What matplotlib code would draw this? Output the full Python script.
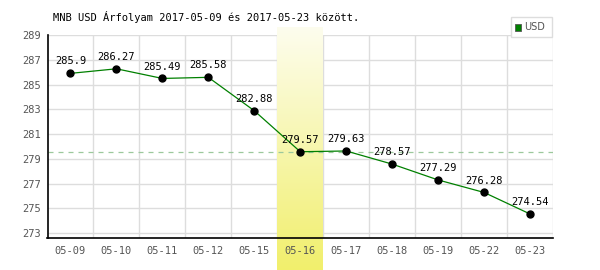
import matplotlib
matplotlib.use("Agg")
import matplotlib.pyplot as plt
import numpy as np
from matplotlib.patches import Rectangle

dates = ["05-09", "05-10", "05-11", "05-12", "05-15", "05-16", "05-17", "05-18", "05-19", "05-22", "05-23"]
values = [285.9, 286.27, 285.49, 285.58, 282.88, 279.57, 279.63, 278.57, 277.29, 276.28, 274.54]
yticks = [273, 275, 277, 279, 281, 283, 285, 287, 289]
highlight_idx = 5
title = "MNB USD Árfolyam 2017-05-09 és 2017-05-23 között."
series_name = "USD"

plt.rcParams['font.family'] = ['DejaVu Sans Mono']
fig = plt.figure(figsize=(6, 2.7), dpi=100)
ax = fig.add_axes([47.5/600, 1-238/270, (553-47.5)/600, (238-35)/270])

ymin, ymax = 272.6, 289.0
x = np.arange(len(dates))
ax.set_xlim(-0.5, len(dates) - 0.5)
ax.set_ylim(ymin, ymax)

# gradient highlight band
grad = np.linspace(0, 1, 256).reshape(-1, 1)
top_c = np.array([0xfd, 0xfd, 0xee]) / 255
bot_c = np.array([0xf1, 0xef, 0x6c]) / 255
img = top_c[None, None, :] * (1 - grad[:, :, None]) + bot_c[None, None, :] * grad[:, :, None]
ppu = 203 / (ymax - ymin)
band_top = ymax + 7 / ppu
band_bot = ymin - 32 / ppu
ax.imshow(img, extent=(highlight_idx - 0.5, highlight_idx + 0.5, band_bot, band_top),
          aspect='auto', zorder=1, clip_on=False, interpolation='bilinear')
ax.set_xlim(-0.5, len(dates) - 0.5)
ax.set_ylim(ymin, ymax)

ax.set_yticks(yticks)
ax.set_xticks(x)
ax.set_xticklabels(dates)
ax.grid(False)
for xv in np.arange(len(dates) + 1)[1:] - 0.5:
    ax.axvline(xv, color='#dddddd', lw=1, zorder=0)
for yv in yticks:
    ax.axhline(yv, color='#dddddd', lw=1, zorder=0)

ax.axhline(values[highlight_idx], color='#9cc89c', lw=0.9, ls=(0, (4, 4)), zorder=2)

ax.plot(x, values, color='#008000', lw=0.9, zorder=3)
ax.plot(x, values, 'o', color='black', ms=5, zorder=4)
for xi, v in zip(x, values):
    ax.annotate(f"{v:g}", (xi, v), xytext=(0, 5), textcoords='offset points',
                ha='center', va='bottom', fontsize=7.5, color='black', zorder=5)

for s in ['top', 'right']:
    ax.spines[s].set_visible(False)
ax.spines['left'].set_color('black')
ax.spines['bottom'].set_color('black')
ax.spines['left'].set_linewidth(1.2)
ax.spines['bottom'].set_linewidth(1.2)
ax.spines['left'].set_zorder(6)
ax.spines['bottom'].set_zorder(6)
ax.tick_params(axis='both', which='both', length=0, colors='#555555', labelsize=7.5)
ax.tick_params(axis='y', pad=5)
ax.tick_params(axis='x', pad=6)

fig.text(53/600, 1 - 17/270, title, fontsize=7.5, color='black', va='center', ha='left')

# legend box
leg = Rectangle((511/600, 1 - 37/270), 41/600, 20/270, transform=fig.transFigure,
                facecolor='white', edgecolor='#dddddd', lw=1, zorder=10)
fig.add_artist(leg)
sq = Rectangle((515/600, 1 - 31/270), 6/600, 7/270, transform=fig.transFigure,
               facecolor='#008000', edgecolor='#555555', lw=0.6, zorder=11)
fig.add_artist(sq)
fig.text(524/600, 1 - 27.5/270, series_name, fontsize=7, color='#555555', va='center', ha='left',
         family='DejaVu Sans', zorder=12)

fig.savefig("out.png", dpi=100)
